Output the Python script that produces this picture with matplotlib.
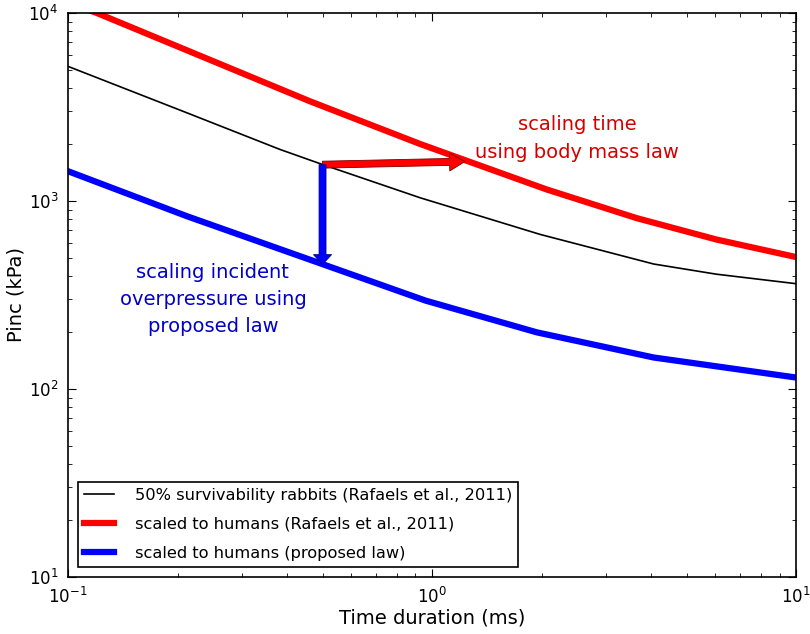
import matplotlib
matplotlib.use('Agg')
import numpy as np
import matplotlib.pyplot as plt

# values
t_rabbit = [0.1, 0.212, 0.382, 0.493, 0.927, 1.98, 4.06, 6.03, 10.0]
p_rabbit = [5200, 2945, 1880, 1578, 1040, 664, 462, 408, 363]

t_human = [0.1, 0.12, 0.462, 0.927, 1.217, 2.065, 3.65, 6.03, 10.0]
p_human = [11400, 10000, 3390, 2010, 1662, 1151, 810, 624, 503]

t_proposed = [0.1, 0.212, 0.502, 0.96, 1.94, 4.06, 10.0]
p_proposed = [1440, 830, 460, 295, 200, 147, 115]

labels = ['50% survivability rabbits (Rafaels et al., 2011)',
          'scaled to humans (Rafaels et al., 2011)',
          'scaled to humans (proposed law)']

if __name__ == '__main__':
    plt.rcParams['font.family'] = ['DejaVu Sans']
    plt.rcParams['font.size'] = 12

    fig = plt.figure(figsize=(8.1, 6.34), dpi=100)
    ax = fig.add_axes([0.084, 0.090, 0.899, 0.8895])

    ax.plot(t_rabbit, p_rabbit, '-', color='k', lw=1.2, label=labels[0])
    ax.plot(t_human, p_human, '-', color='r', lw=4.5, label=labels[1])
    ax.plot(t_proposed, p_proposed, '-', color='b', lw=4.5, label=labels[2])

    ax.set_xscale('log')
    ax.set_yscale('log')
    ax.set_xlim(0.1, 10)
    ax.set_ylim(10, 1e4)

    # arrows
    ax.annotate('', xy=(1.23, 1620), xytext=(0.5, 1560),
                arrowprops=dict(facecolor='r', edgecolor='#800000', lw=0.6,
                                width=5, headwidth=13, headlength=11, shrink=0))
    ax.annotate('', xy=(0.5, 460), xytext=(0.5, 1560),
                arrowprops=dict(facecolor='b', edgecolor='#000080', lw=0.6,
                                width=5, headwidth=13, headlength=7, shrink=0))

    ax.text(2.50, 2150, 'scaling time\nusing body mass law', color='#d40000',
            ha='center', va='center', fontsize=14, linespacing=1.55)
    ax.text(0.250, 300, 'scaling incident\noverpressure using\nproposed law',
            color='#0000c8', ha='center', va='center', fontsize=14,
            linespacing=1.55)

    ax.tick_params(which='both', direction='in', top=True, right=True)
    ax.tick_params(which='major', length=6, width=0.8, labelsize=12, pad=7)
    ax.tick_params(which='minor', length=3, width=0.6)
    for s in ax.spines.values():
        s.set_linewidth(1.2)

    ax.set_xlabel('Time duration (ms)', fontsize=14, labelpad=1)
    ax.set_ylabel('Pinc (kPa)', fontsize=14, labelpad=2)

    leg = ax.legend(loc='lower left', fontsize=11.7, fancybox=False,
                    framealpha=1, edgecolor='k', labelspacing=0.85,
                    borderaxespad=0.6, handlelength=1.8, handletextpad=1.3)
    leg.get_frame().set_linewidth(1.2)

    plt.savefig('out.png', dpi=100)
